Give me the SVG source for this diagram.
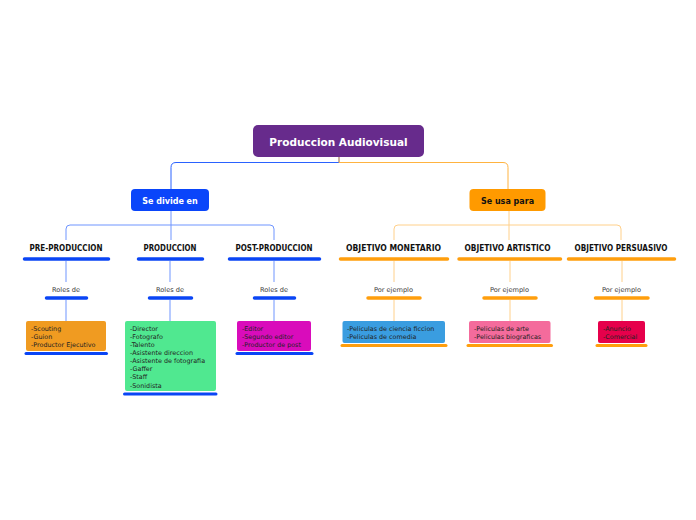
<svg xmlns="http://www.w3.org/2000/svg" width="696" height="520" viewBox="0 0 696 520">
<style>
.lt{fill:none;stroke:#2a62ff;stroke-width:1}
.ot{fill:none;stroke:#ffb340;stroke-width:1}
.lb{fill:none;stroke:#6f95ff;stroke-width:1}
.lo{fill:none;stroke:#ffd08a;stroke-width:1}
.bb{stroke:#0a45f5;stroke-width:3.5;stroke-linecap:round}
.bo{stroke:#ff9e0d;stroke-width:3.5;stroke-linecap:round}
.cat{font-family:"DejaVu Sans Condensed","DejaVu Sans",sans-serif;font-weight:bold;font-size:9px;fill:#111;text-anchor:middle}
.sm{font-family:"DejaVu Sans",Verdana,sans-serif;font-size:6.6px;fill:#3a3a3a;text-anchor:middle}
.bx{font-family:"DejaVu Sans",Verdana,sans-serif;font-size:6.4px;fill:#222}
</style>
<rect width="696" height="520" fill="#fff"/>
<g id="connectors">
<path class="lt" d="M339,157 V162.5 H176 Q171,162.5 171,167.5 V189"/>
<path class="ot" d="M339,157 V162.5 H503 Q508,162.5 508,167.5 V189"/>
<path class="lb" d="M171,211 V240 M171,225 H70 Q66,225 66,229 V240 M171,225 H270 Q274,225 274,229 V240"/>
<path class="lo" d="M509,211 V240 M509,225 H398 Q394,225 394,229 V240 M509,225 H617 Q621,225 621,229 V240"/>
<path class="lb" d="M66,261 V282 M66,300 V321 M170,261 V282 M170,300 V321 M274,261 V282 M274,300 V321"/>
<path class="lo" d="M394,261 V282 M394,300 V321 M510,261 V282 M510,300 V321 M622,261 V282 M622,300 V321"/>
</g>
<g id="root">
<rect x="253" y="125" width="171" height="32" rx="5" fill="#672b8c"/>
<text x="338.5" y="145.5" font-family="DejaVu Sans,sans-serif" font-weight="bold" font-size="10.5" fill="#fff" text-anchor="middle">Produccion Audiovisual</text>
</g>
<g id="divide">
<rect x="131" y="189" width="78" height="22" rx="4" fill="#0a45fa"/>
<text x="170" y="203.5" font-family="DejaVu Sans,sans-serif" font-weight="bold" font-size="8" fill="#fff" text-anchor="middle">Se divide en</text>
</g>
<g id="usa">
<rect x="469.5" y="189" width="76" height="22" rx="4" fill="#ff9a00"/>
<text x="507.5" y="203.5" font-family="DejaVu Sans,sans-serif" font-weight="bold" font-size="8" fill="#111" text-anchor="middle">Se usa para</text>
</g>
<g id="preproduccion">
<text class="cat" x="66" y="250.5" textLength="73" lengthAdjust="spacingAndGlyphs">PRE-PRODUCCION</text>
<line class="bb" x1="24.5" y1="259" x2="108.5" y2="259"/>
<text class="sm" x="66" y="291.5">Roles de</text>
<line class="bb" x1="46.5" y1="298" x2="86.5" y2="298"/>
<rect x="26" y="321" width="80" height="30" rx="2" fill="#f09b21"/>
<line class="bb" x1="26" y1="353.5" x2="106.5" y2="353.5" style="stroke-width:3"/>
<text class="bx" x="31" y="331">-Scouting</text>
<text class="bx" x="31" y="339">-Guion</text>
<text class="bx" x="31" y="347">-Productor Ejecutivo</text>
</g>
<g id="produccion">
<text class="cat" x="170" y="250.5" textLength="53" lengthAdjust="spacingAndGlyphs">PRODUCCION</text>
<line class="bb" x1="138.5" y1="259" x2="202.5" y2="259"/>
<text class="sm" x="170" y="291.5">Roles de</text>
<line class="bb" x1="149.5" y1="298" x2="191.5" y2="298"/>
<rect x="125" y="321" width="91" height="70" rx="2" fill="#50e890"/>
<line class="bb" x1="124.5" y1="394" x2="216" y2="394" style="stroke-width:3"/>
<text class="bx" x="130" y="331">-Director</text>
<text class="bx" x="130" y="339">-Fotografo</text>
<text class="bx" x="130" y="347">-Talento</text>
<text class="bx" x="130" y="355">-Asistente direccion</text>
<text class="bx" x="130" y="363">-Asistente de fotografia</text>
<text class="bx" x="130" y="371">-Gaffer</text>
<text class="bx" x="130" y="379">-Staff</text>
<text class="bx" x="130" y="387.5">-Sonidista</text>
</g>
<g id="postproduccion">
<text class="cat" x="274" y="250.5" textLength="77" lengthAdjust="spacingAndGlyphs">POST-PRODUCCION</text>
<line class="bb" x1="229.5" y1="259" x2="319.5" y2="259"/>
<text class="sm" x="274" y="291.5">Roles de</text>
<line class="bb" x1="254.5" y1="298" x2="294.5" y2="298"/>
<rect x="237" y="321" width="74" height="30" rx="2" fill="#d90cbb"/>
<line class="bb" x1="237" y1="353.5" x2="312" y2="353.5" style="stroke-width:3"/>
<text class="bx" x="242" y="331">-Editor</text>
<text class="bx" x="242" y="339">-Segundo editor</text>
<text class="bx" x="242" y="347">-Productor de post</text>
</g>
<g id="monetario">
<text class="cat" x="393.5" y="250.5" textLength="95" lengthAdjust="spacingAndGlyphs">OBJETIVO MONETARIO</text>
<line class="bo" x1="340.5" y1="259" x2="447.5" y2="259"/>
<text class="sm" x="393.5" y="291.5">Por ejemplo</text>
<line class="bo" x1="368" y1="298" x2="420" y2="298"/>
<rect x="342.5" y="321" width="102.5" height="22" rx="2" fill="#3a9de0"/>
<line class="bo" x1="342" y1="345.5" x2="446" y2="345.5" style="stroke-width:3"/>
<text class="bx" x="347" y="331">-Peliculas de ciencia ficcion</text>
<text class="bx" x="347" y="339">-Peliculas de comedia</text>
</g>
<g id="artistico">
<text class="cat" x="507.5" y="250.5" textLength="86" lengthAdjust="spacingAndGlyphs">OBJETIVO ARTISTICO</text>
<line class="bo" x1="459" y1="259" x2="560.5" y2="259"/>
<text class="sm" x="509.5" y="291.5">Por ejemplo</text>
<line class="bo" x1="484" y1="298" x2="536" y2="298"/>
<rect x="469" y="321" width="81.5" height="22" rx="2" fill="#f46b9c"/>
<line class="bo" x1="468" y1="345.5" x2="551.5" y2="345.5" style="stroke-width:3"/>
<text class="bx" x="474" y="331">-Peliculas de arte</text>
<text class="bx" x="474" y="339">-Peliculas biograficas</text>
</g>
<g id="persuasivo">
<text class="cat" x="621" y="250.5" textLength="93" lengthAdjust="spacingAndGlyphs">OBJETIVO PERSUASIVO</text>
<line class="bo" x1="568.5" y1="259" x2="674.5" y2="259"/>
<text class="sm" x="621.5" y="291.5">Por ejemplo</text>
<line class="bo" x1="595.5" y1="298" x2="648" y2="298"/>
<rect x="598" y="321" width="47" height="22" rx="2" fill="#e6004b"/>
<line class="bo" x1="597" y1="345.5" x2="646" y2="345.5" style="stroke-width:3"/>
<text class="bx" x="603" y="331">-Anuncio</text>
<text class="bx" x="603" y="339">-Comercial</text>
</g>
</svg>
